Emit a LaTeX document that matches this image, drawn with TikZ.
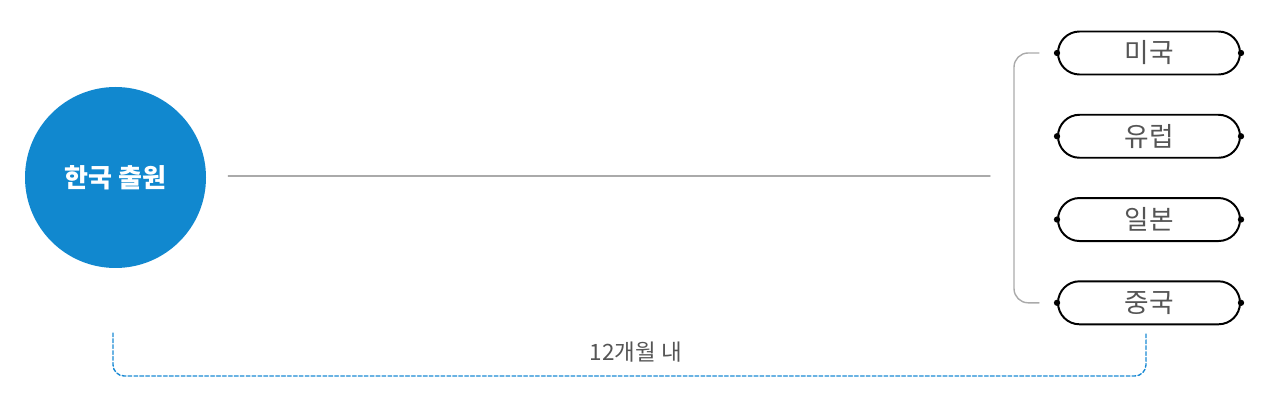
\documentclass[tikz,border=0pt]{standalone}
\usepackage{fontspec}
\setmainfont{Noto Sans CJK KR}
\usetikzlibrary{shapes.misc,positioning}
\definecolor{krblue}{HTML}{1188CF}
\definecolor{dashblue}{HTML}{1A8AD4}
\definecolor{linegray}{HTML}{AAAAAA}
\definecolor{textgray}{HTML}{555555}
\begin{document}
\begin{tikzpicture}[x=0.025cm,y=0.025cm,line join=round,line cap=round,
    country/.style={draw=black,line width=1.4pt,rounded rectangle,minimum width=182*0.025cm,
        minimum height=43*0.025cm,inner sep=0pt,text=textgray,font=\fontsize{19}{22}\selectfont},
    dot/.style={fill=black,circle,inner sep=0pt,minimum size=4.5pt}]
    \useasboundingbox (0,0) rectangle (1280,400);
    % start: filing in Korea
    \node[circle,fill=krblue,minimum size=181*0.025cm,inner sep=0pt,text=white,
        font=\fontsize{18.5}{21}\selectfont\bfseries] (kr) at (115.5,222.5) {한국 출원};
    % destination countries
    \node[country] (us) at (1149,347) {미국};
    \node[country,below=38.3*0.025cm of us] (eu) {유럽};
    \node[country,below=38.3*0.025cm of eu] (jp) {일본};
    \node[country,below=38.3*0.025cm of jp] (cn) {중국};
    \foreach \c in {us,eu,jp,cn}{
        \node[dot] at (\c.west) {};
        \node[dot] at (\c.east) {};
    }
    % main line and bracket
    \coordinate (lineend) at (990,224);
    \draw[linegray,line width=1pt] ([xshift=22*0.025cm]kr.east|-lineend) -- (lineend);
    \draw[linegray,line width=1pt,rounded corners=10pt]
        ([xshift=-18*0.025cm]us.west) -- ++(-25,0) |- ([xshift=-18*0.025cm]cn.west);
    % 12 months span
    \coordinate (spanl) at (113,67);
    \coordinate (spanr) at ([xshift=-3*0.025cm]cn.south|-spanl);
    \draw[dashblue,line width=1pt,dash pattern=on 2.6pt off 1.6pt,rounded corners=8pt]
        (spanl) -- ++(0,-43) -| (spanr);
    \node[text=textgray,font=\fontsize{16}{19}\selectfont] (span) at (636,48) {12개월 내};
\end{tikzpicture}
\end{document}
